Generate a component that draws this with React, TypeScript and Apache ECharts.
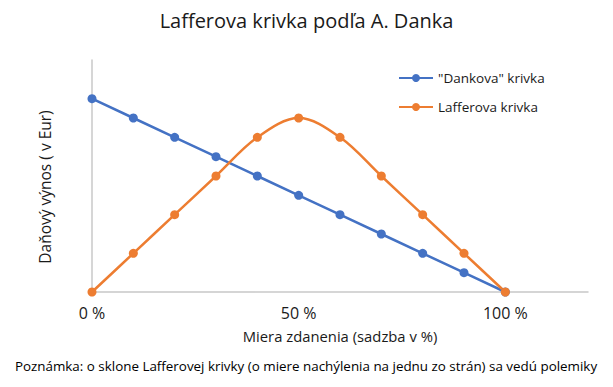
import React, { useEffect, useRef } from "react";
import * as echarts from "echarts";

const taxRates = [0, 10, 20, 30, 40, 50, 60, 70, 80, 90, 100];
const dankaValues = [100, 90, 80, 70, 60, 50, 40, 30, 20, 10, 0];
const lafferValues = [0, 20, 40, 60, 80, 90, 80, 60, 40, 20, 0];
const xTickLabels = [0, 50, 100];

const FONT = "'Open Sans', 'Noto Sans', sans-serif";

export default function App() {
  const ref = useRef<HTMLDivElement>(null);
  useEffect(() => {
    document.body.style.margin = "0";
    const chart = echarts.init(ref.current!, null, { renderer: "svg" });
    chart.setOption({
      animation: false,
      backgroundColor: "#ffffff",
      textStyle: { fontFamily: FONT },
      title: {
        text: "Lafferova krivka podľa A. Danka",
        left: "center",
        top: 5,
        textStyle: { fontFamily: FONT, fontSize: 20, fontWeight: "normal", color: "#1a1a1a" },
      },
      legend: {
        orient: "vertical",
        left: 398,
        top: 70,
        padding: 0,
        itemWidth: 34,
        itemHeight: 10,
        itemGap: 13,
        textStyle: { fontFamily: FONT, fontSize: 13.5, color: "#1a1a1a", lineHeight: 16 },
        data: ['"Dankova" krivka', "Lafferova krivka"],
      },
      grid: { left: 92, right: 25, top: 60, bottom: 95, containLabel: false },
      xAxis: {
        type: "value",
        min: 0,
        max: 120,
        interval: 50,
        axisLine: { show: true, lineStyle: { color: "#C8C8C8", width: 1.5 } },
        axisTick: { show: false },
        splitLine: { show: false },
        axisLabel: {
          showMaxLabel: false,
          margin: 13,
          fontFamily: FONT,
          fontSize: 16,
          color: "#1a1a1a",
          formatter: (v: number) => (xTickLabels.includes(v) ? v + " %" : ""),
        },
        name: "Miera zdanenia (sadzba v %)",
        nameLocation: "middle",
        nameGap: 36,
        nameTextStyle: { fontFamily: FONT, fontSize: 14.8, color: "#1a1a1a" },
      },
      yAxis: {
        type: "value",
        min: 0,
        max: 120,
        axisLine: { show: true, lineStyle: { color: "#C8C8C8", width: 1.5 } },
        axisTick: { show: false },
        splitLine: { show: false },
        axisLabel: { show: false },
      },
      series: [
        {
          name: '"Dankova" krivka',
          type: "line",
          data: taxRates.map((x, i) => [x, dankaValues[i]]),
          symbol: "circle",
          symbolSize: 9,
          lineStyle: { color: "#4472C4", width: 2.5 },
          itemStyle: { color: "#4472C4" },
        },
        {
          name: "Lafferova krivka",
          type: "line",
          smooth: 0.35,
          data: taxRates.map((x, i) => [x, lafferValues[i]]),
          symbol: "circle",
          symbolSize: 9,
          lineStyle: { color: "#ED7D31", width: 2.5 },
          itemStyle: { color: "#ED7D31" },
        },
      ],
      graphic: [
        {
          type: "text",
          x: 45,
          y: 187,
          rotation: Math.PI / 2,
          style: {
            text: "Daňový výnos ( v Eur)",
            fontFamily: FONT,
            fontSize: 15.5,
            fill: "#1a1a1a",
            align: "center",
            verticalAlign: "middle",
          },
        },
        {
          type: "text",
          x: 306,
          y: 366,
          style: {
            text: "Poznámka: o sklone Lafferovej krivky (o miere nachýlenia na jednu zo strán) sa vedú polemiky",
            fontFamily: FONT,
            fontSize: 13.4,
            fill: "#000000",
            align: "center",
            verticalAlign: "middle",
          },
        },
      ],
    });
    return () => chart.dispose();
  }, []);
  return <div ref={ref} style={{ width: 613, height: 387 }} />;
}
